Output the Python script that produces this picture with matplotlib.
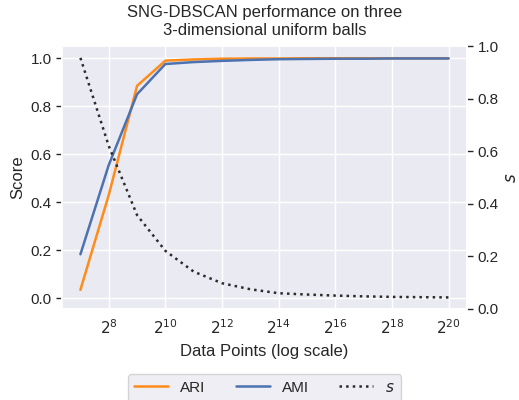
import matplotlib
matplotlib.use("Agg")
import matplotlib.pyplot as plt
import seaborn as sns
import numpy as np

# data
exponents = [7, 8, 9, 10, 11, 12, 13, 14, 15, 16, 17, 18, 19, 20]
ari = [0.035, 0.43, 0.885, 0.99, 0.995, 0.998, 0.999, 0.999, 1.0, 1.0, 1.0, 1.0, 1.0, 1.0]
ami = [0.183, 0.555, 0.85, 0.976, 0.984, 0.989, 0.993, 0.996, 0.997, 0.998, 0.998, 0.999, 0.999, 0.999]
s_vals = [0.955, 0.62, 0.357, 0.221, 0.142, 0.098, 0.075, 0.060, 0.055, 0.051, 0.048, 0.046, 0.045, 0.044]
xtick_exps = [8, 10, 12, 14, 16, 18, 20]

sns.set_theme(style="darkgrid")
plt.rcParams['font.family'] = ['Liberation Sans', 'DejaVu Sans']

n_points = [2 ** e for e in exponents]

fig = plt.figure(figsize=(5.19, 4.0), dpi=100)
ax = fig.add_axes([0.1195, 0.2275, 0.7803, 0.6575])
ax2 = ax.twinx()

l1, = ax.plot(n_points, ari, color='#ff8c1a', lw=1.8, label='ARI')
l2, = ax.plot(n_points, ami, color='#4c72b0', lw=1.8, label='AMI')
l3, = ax2.plot(n_points, s_vals, color='#2b2b2b', lw=1.8, ls=':', label='$s$')

ax.set_xscale('log', base=2)
ax.set_xticks([2 ** e for e in xtick_exps])
ax.set_xticklabels(['$2^{%d}$' % e for e in xtick_exps])
ax.minorticks_off()
ax.set_ylim(-0.045, 1.051)
ax.set_yticks([0.0, 0.2, 0.4, 0.6, 0.8, 1.0])
ax2.set_ylim(0, 1)
ax2.set_yticks([0.0, 0.2, 0.4, 0.6, 0.8, 1.0])
ax2.grid(False)

ax.tick_params(axis='x', labelsize=11, length=0, pad=7)
ax.tick_params(axis='y', labelsize=11, length=4.5, width=1, color='#262626', pad=3)
ax2.tick_params(axis='y', labelsize=11, length=4.5, width=1, color='#262626', pad=3)

ax.set_xlabel('Data Points (log scale)', fontsize=12, labelpad=5)
ax.set_ylabel('Score', fontsize=12)
ax2.set_ylabel('$s$', fontsize=12)
ax.set_title('SNG-DBSCAN performance on three\n3-dimensional uniform balls', fontsize=12, pad=8)

leg = ax.legend(handles=[l1, l2, l3], loc='upper center', bbox_to_anchor=(0.5, -0.22),
                ncol=3, fontsize=11, handlelength=2.2, columnspacing=2.0, frameon=True)
leg.get_frame().set_edgecolor('#cccccc')

fig.savefig('out.png', dpi=100)
